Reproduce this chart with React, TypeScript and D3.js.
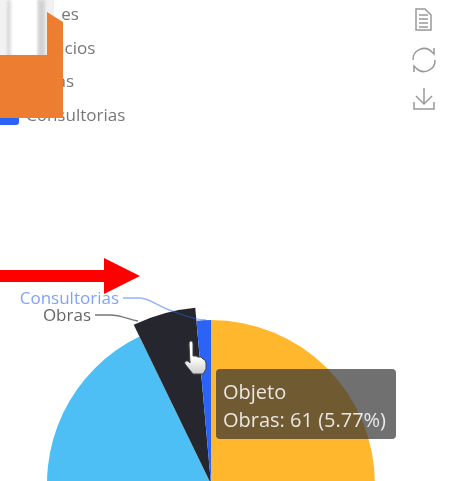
import React from "react";
import * as d3 from "d3";

const categories = ["Bienes", "Servicios", "Obras", "Consultorias"];
const values = [528, 453, 61, 15];
const colors = ["#FFB82E", "#4DBFF5", "#25282D", "#2B63F5"];
const legendLabels = ["Bienes", "Servicios", "Obras", "Consultorias"];
const tooltipLines = ["Objeto", "Obras: 61 (5.77%)"];
const font = "'Open Sans', 'Noto Sans', sans-serif";

export default function App() {
  const cx = 211, cy = 484, r = 164;
  const pie = d3.pie<number>().sort(null)(values);
  const arcs = pie.map((p, i) => {
    const rr = categories[i] === "Obras" ? r + 13 : r;
    return d3.arc<any>().innerRadius(0).outerRadius(rr)(p) as string;
  });
  const legendY = d3.scalePoint<string>().domain(legendLabels).range([14, 115]);
  return (
    <svg width={451} height={481} style={{ position: "fixed", left: 0, top: 0 }}>
      <defs>
        <filter id="b" x="-10%" y="-10%" width="120%" height="120%"><feGaussianBlur stdDeviation="0.6" /></filter>
        <filter id="t" x="-10%" y="-10%" width="120%" height="120%"><feGaussianBlur stdDeviation="0.45" /></filter>
        <filter id="s" x="-50%" y="-20%" width="200%" height="140%"><feGaussianBlur stdDeviation="1.5" /></filter>
        <linearGradient id="h" x1="0" y1="0" x2="0" y2="1">
          <stop offset="0.5" stopColor="#fff" /><stop offset="1" stopColor="#ccc" />
        </linearGradient>
      </defs>
      <rect width={451} height={481} fill="#fff" />
      <g filter="url(#b)">
        <rect x={-10} y={108} width={29} height={17} rx={3} fill="#2B63F5" />
        <g fill="none" stroke="#999" strokeWidth={1.5}>
          <path d="M416 9h9l6 6v15h-15zM419 15h9M419 19h9M419 23h9M419 27h9" />
          <path d="M413 60a11 11 0 0 1 19-8l2 2v-6M435 60a11 11 0 0 1-19 8l-2-2v6" />
          <path d="M424 88v16M416 96l8 8 8-8M414 102v7h20v-7" />
        </g>
        <g transform={`translate(${cx},${cy})`}>
          {arcs.map((d, i) => <path key={categories[i]} d={d} fill={colors[i]} />)}
        </g>
        <path d="M123 298H140C150 298 160 308 175 312C185 316 195 320 206 320" fill="none" stroke="#2B63F5" strokeOpacity={0.5} strokeWidth={1.3} />
        <path d="M95 315H110C120 315 128 319 138 321" fill="none" stroke="#777" strokeWidth={1.3} />
        <rect x={216} y={369} width={180} height={70} rx={4} fill="#323232" fillOpacity={0.7} />
        <path d="M189 344c0-4 4-4 4 0v12l3 0 2 1 3 0 2 2 2 1 1 3v6l-3 5h-10l-8-10c-1-3 2-4 4-2l1 1z" fill="url(#h)" stroke="#444" strokeWidth={1} />
      </g>
      <g filter="url(#t)">
        {legendLabels.map(t => (
          <text key={t} x={26} y={legendY(t)} dy="0.35em" fontFamily={font} fontSize={17} fill="#777">{t}</text>
        ))}
        <text x={119} y={298} dy="0.35em" textAnchor="end" fontFamily={font} fontSize={17} fill="#2B63F5" fillOpacity={0.6}>Consultorias</text>
        <text x={91} y={315} dy="0.35em" textAnchor="end" fontFamily={font} fontSize={17} fill="#666">Obras</text>
        {tooltipLines.map((t, i) => (
          <text key={t} x={223} y={392 + i * 28} dy="0.35em" fontFamily={font} fontSize={20} fill="#fff" fillOpacity={0.85}>{t}</text>
        ))}
      </g>
      <rect x={0} y={0} width={60} height={60} fill="#fff" />
      <g filter="url(#b)">
        <rect x={0} y={0} width={5} height={60} fill="#f2f2f2" />
        <rect x={6} y={0} width={5} height={60} fill="#dcdcdc" filter="url(#s)" />
        <rect x={37} y={0} width={17} height={60} fill="#f1f1f1" />
        <rect x={38} y={0} width={7} height={60} fill="#d2d2d2" filter="url(#s)" />
      </g>
      <path d="M0 55H47V12L63 22V118H0Z" fill="#ED7D31" />
      <path d="M0 270H104V258L140 276L104 294V282H0Z" fill="#FF0000" />
    </svg>
  );
}
